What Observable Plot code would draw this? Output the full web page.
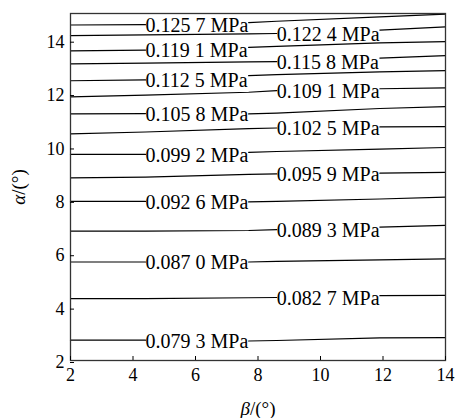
<!DOCTYPE html>
<html><head><meta charset="utf-8">
<script src="https://cdn.jsdelivr.net/npm/d3@7"></script>
<script src="https://cdn.jsdelivr.net/npm/@observablehq/plot@0.6"></script>
<style>body{margin:0;background:#fff}</style>
</head><body><div id="chart"></div>
<script>
// beta positions (deg) at which each contour's alpha was read
const betaGrid = [2, 4.4, 7.7, 8.6, 11.9, 14];
const xTicks = [2, 4, 6, 8, 10, 12, 14];
const yTicks = [2, 4, 6, 8, 10, 12, 14];
const levelLabels = [
  "0.125 7 MPa", "0.122 4 MPa", "0.119 1 MPa", "0.115 8 MPa", "0.112 5 MPa",
  "0.109 1 MPa", "0.105 8 MPa", "0.102 5 MPa", "0.099 2 MPa", "0.095 9 MPa",
  "0.092 6 MPa", "0.089 3 MPa", "0.087 0 MPa", "0.082 7 MPa", "0.079 3 MPa"
];
// where each label sits: "left" (between beta 4.4 and 7.7) or "right" (between 8.6 and 11.9)
const labelSide = ["left","right","left","right","left","right","left","right","left","right","left","right","left","right","left"];
// alpha (deg) of each contour at betaGrid
const contourAlpha = [
  [14.57, 14.58, 14.66, 14.71, 14.87, 14.98],
  [14.17, 14.20, 14.24, 14.25, 14.38, 14.50],
  [13.60, 13.63, 13.73, 13.77, 13.90, 13.95],
  [13.11, 13.14, 13.19, 13.20, 13.33, 13.42],
  [12.48, 12.51, 12.67, 12.71, 12.81, 12.86],
  [11.88, 11.94, 12.05, 12.11, 12.18, 12.21],
  [11.24, 11.25, 11.24, 11.27, 11.44, 11.51],
  [10.49, 10.56, 10.69, 10.71, 10.75, 10.76],
  [9.72, 9.72, 9.80, 9.83, 9.92, 9.98],
  [8.84, 8.87, 8.97, 8.99, 9.02, 9.05],
  [7.96, 7.96, 7.94, 7.96, 8.05, 8.12],
  [6.85, 6.85, 6.87, 6.90, 7.00, 7.06],
  [5.69, 5.69, 5.69, 5.71, 5.77, 5.81],
  [4.32, 4.32, 4.35, 4.36, 4.43, 4.44],
  [2.76, 2.76, 2.73, 2.75, 2.85, 2.86]
];

// build line segments (broken where the label sits) and label rows
const segRows = [];
const labelRows = [];
contourAlpha.forEach((ys, i) => {
  const side = labelSide[i];
  const gapStart = side === "left" ? 1 : 3; // label occupies [gapStart, gapStart+1]
  ys.forEach((y, j) => {
    const seg = j <= gapStart ? `${i}-a` : `${i}-b`;
    segRows.push({x: betaGrid[j], y, seg});
  });
  labelRows.push({x: betaGrid[gapStart], y: ys[gapStart], text: levelLabels[i]});
});

const chart = Plot.plot({
  width: 455, height: 418,
  marginLeft: 70, marginRight: 10, marginTop: 13, marginBottom: 58,
  x: {domain: [2, 14]},
  y: {domain: [2, 15]},
  style: {fontFamily: "'Liberation Serif', 'Times New Roman', serif", fontSize: "18px", background: "#fff", color: "#000"},
  marks: [
    Plot.line(segRows, {x: "x", y: "y", z: "seg", stroke: "#000", strokeWidth: 1.2}),
    Plot.text(labelRows, {x: "x", y: "y", text: "text", textAnchor: "start", fontSize: 20, dy: 1, fill: "#000"}),
    Plot.frame({stroke: "#333", strokeWidth: 1.3}),
    Plot.axisX({ticks: xTicks, tickSize: -4, tickPadding: 12, tickFormat: d => String(d), fontFamily: "'Liberation Serif', serif", label: "β/(°)", labelAnchor: "center", labelOffset: 54, labelArrow: "none"}),
    Plot.axisY({ticks: yTicks, tickSize: -4, tickPadding: 10, dy: 2, tickFormat: d => String(d), fontFamily: "'Liberation Serif', serif", label: "α/(°)", labelAnchor: "center", labelOffset: 59, labelArrow: "none"})
  ]
});
document.getElementById("chart").appendChild(chart);

// italicise the Greek letters in the axis labels
d3.select(chart).selectAll('g[aria-label$="axis label"] text').each(function() {
  const t = d3.select(this);
  const s = t.text();
  t.text(null).attr("font-size", 19).attr("font-family", "'Liberation Serif', serif");
  t.append("tspan").attr("font-style", "italic").text(s[0]);
  t.append("tspan").text(s.slice(1));
});
</script>
</body></html>
